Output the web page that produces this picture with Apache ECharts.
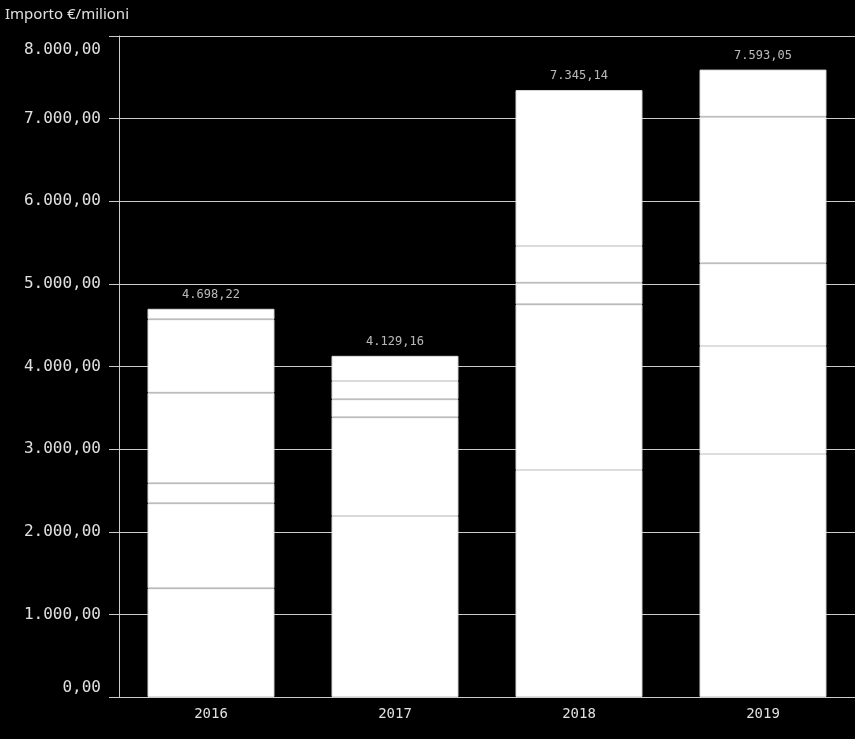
<!DOCTYPE html>
<html>
<head>
<meta charset="utf-8">
<script src="https://cdn.jsdelivr.net/npm/echarts@6/dist/echarts.min.js"></script>
<style>
html,body{margin:0;padding:0;background:#000;}
#chart{width:855px;height:739px;}
</style>
</head>
<body>
<div id="chart"></div>
<script>
// ---- data ----
var years = ['2016', '2017', '2018', '2019'];
var seg1 = [1315, 2190, 2747, 2941];
var seg2 = [1029, 1195, 2005, 1307];
var seg3 = [242, 218, 262, 1001];
var seg4 = [1097, 221, 444, 1774];
var seg5 = [888, '-', '-', '-'];
var seg6 = [127.22, 305.16, 1887.14, 570.05];
var totals = [4698.22, 4129.16, 7345.14, 7593.05];
var yTicks = [0, 1000, 2000, 3000, 4000, 5000, 6000, 7000, 8000];

function itNum(v) {
  var s = Number(v).toFixed(2);
  var parts = s.split('.');
  var intPart = parts[0].replace(/\B(?=(\d{3})+(?!\d))/g, '.');
  return intPart + ',' + parts[1];
}

var segs = [seg1, seg2, seg3, seg4, seg5, seg6];
var series = segs.map(function (d, i) {
  return {
    type: 'bar',
    name: 's' + (i + 1),
    stack: 'tot',
    barWidth: '69%',
    data: d,
    itemStyle: { color: '#ffffff', borderColor: '#dedede', borderWidth: 1 },
    emphasis: { disabled: true }
  };
});
series.push({
  type: 'scatter',
  name: 'totale',
  data: totals,
  symbolSize: 0,
  silent: true,
  z: 10,
  label: {
    show: true,
    position: 'top',
    distance: 8,
    color: '#e6e6e6',
    fontFamily: 'DejaVu Sans Mono',
    fontSize: 12,
    formatter: function (p) { return itNum(totals[p.dataIndex]); }
  }
});

var yMin = yTicks[0], yMax = yTicks[yTicks.length - 1];

var chart = echarts.init(document.getElementById('chart'), null, { renderer: 'canvas' });
chart.setOption({
  backgroundColor: '#000000',
  animation: false,
  title: {
    text: 'Importo €/milioni',
    left: 0,
    top: 2,
    textStyle: { color: '#e0e0e0', fontFamily: 'Noto Sans', fontSize: 15, fontWeight: 'normal' }
  },
  grid: { left: 119, right: 0, top: 36, bottom: 42, containLabel: false },
  xAxis: {
    type: 'category',
    data: years,
    axisLine: { show: true, lineStyle: { color: '#cccccc', width: 1 } },
    axisTick: { show: false },
    axisLabel: { color: '#e0e0e0', fontFamily: 'DejaVu Sans Mono', fontSize: 14, margin: 10 }
  },
  yAxis: {
    type: 'value',
    min: yMin,
    max: yMax,
    interval: 1000,
    axisLine: { show: true, lineStyle: { color: '#cccccc', width: 1 } },
    axisTick: { show: true, length: 10, lineStyle: { color: '#cccccc' } },
    splitLine: { show: true, lineStyle: { color: '#cccccc', width: 1 } },
    axisLabel: {
      color: '#e0e0e0',
      fontFamily: 'DejaVu Sans Mono',
      fontSize: 16,
      margin: 18,
      formatter: function (v) {
        if (v === yMax) return '{top|' + itNum(v) + '}';
        if (v === yMin) return '{bot|' + itNum(v) + '}';
        return itNum(v);
      },
      rich: {
        top: { fontFamily: 'DejaVu Sans Mono', fontSize: 16, color: '#e0e0e0', padding: [28, 0, 0, 0] },
        bot: { fontFamily: 'DejaVu Sans Mono', fontSize: 16, color: '#e0e0e0', padding: [0, 0, 18, 0] }
      }
    }
  },
  series: series
});
</script>
</body>
</html>
